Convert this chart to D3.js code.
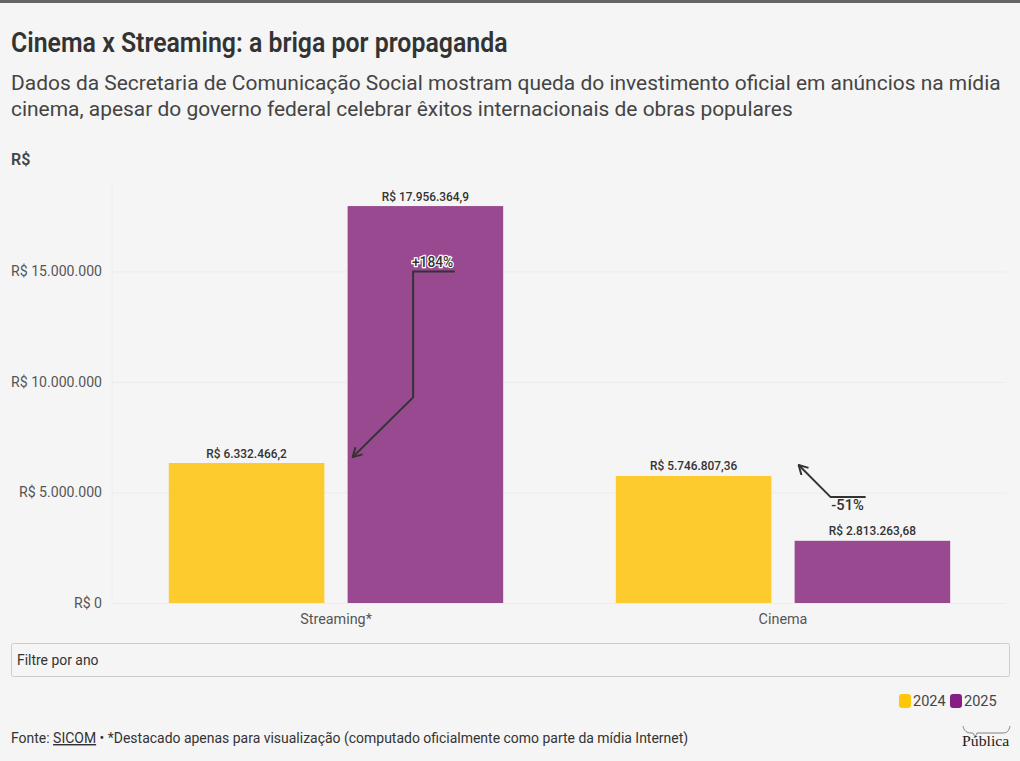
<!DOCTYPE html>
<html>
<head>
<meta charset="utf-8">
<script src="https://cdn.jsdelivr.net/npm/d3@7"></script>
<style>
	html, body { margin: 0; background: #f5f5f5; overflow: hidden; }
	svg { display: block; font-family: Roboto, sans-serif; }
</style>
</head>
<body>
<svg id="chart" width="1020" height="761"></svg>
<script>
'use strict'

const categories = ['Streaming*', 'Cinema']
const years = ['2024', '2025']
const values2024 = [6332466.2, 5746807.36]
const values2025 = [17956364.9, 2813263.68]
const yTicks = [0, 5000000, 10000000, 15000000]
const titleText = 'Cinema x Streaming: a briga por propaganda'
const subtitleLines = [
	'Dados da Secretaria de Comunicação Social mostram queda do investimento oficial em anúncios na mídia',
	'cinema, apesar do governo federal celebrar êxitos internacionais de obras populares'
]
const footerParts = [
	'Fonte:',
	'SICOM',
	'• *Destacado apenas para visualização (computado oficialmente como parte da mídia Internet)'
]

const ptBR = d3.formatLocale({ decimal: ',', thousands: '.', grouping: [3], currency: ['R$ ', ''] })
const tickFormat = ptBR.format('$,.0f')
const valueFormat = ptBR.format('$,.2~f')

const barColor = d3.scaleOrdinal(years, ['#fdcb2e', '#98498f'])
const legendColor = d3.scaleOrdinal(years, ['#ffc60a', '#851f84'])

const svg = d3.select('#chart')

// The original webfont is narrow, so Roboto gets squeezed horizontally.
function label(x, y, text, size, weight, fill, squeeze, anchor) {
	const node = svg.append('text')
		.attr('x', x)
		.attr('y', y)
		.attr('font-size', size)
		.attr('font-weight', weight)
		.attr('fill', fill)
		.attr('text-anchor', anchor || 'start')
		.text(text)
	squeezeText(node, squeeze)
	return node
}

function squeezeText(node, squeeze) {
	node.each(function () {
		this.setAttribute('textLength', this.getComputedTextLength() * squeeze)
		this.setAttribute('lengthAdjust', 'spacingAndGlyphs')
	})
}

svg.append('rect').attr('width', 1020).attr('height', 3).attr('fill', '#666')

label(11, 52, titleText, 27, 600, '#333', 0.921)
subtitleLines.forEach((line, i) => label(11, 90 + i * 26, line, 21, 400, '#444', 0.997))
label(11, 165, 'R$', 16, 600, '#444', 1)

const y = d3.scaleLinear().domain([0, 19000000]).range([603, 183])
const x = d3.scaleBand().domain(categories).range([112.5, 1006.5])
const xYear = d3.scaleBand().domain(years).range([0, x.bandwidth()]).paddingInner(0.13).paddingOuter(0.315)

// gridlines
const gridAxis = d3.axisLeft(y).tickValues(yTicks).tickSize(-894).tickFormat('')
const grid = svg.append('g').attr('transform', 'translate(112,0)').call(gridAxis)
grid.select('.domain').attr('stroke', '#eee').attr('d', 'M0,183V603')
grid.selectAll('.tick line').attr('stroke', '#ececec')

const yAxis = svg.append('g')
	.attr('transform', 'translate(102,-0.5)')
	.call(d3.axisLeft(y).tickValues(yTicks).tickSize(0).tickPadding(0).tickFormat(tickFormat))
yAxis.select('.domain').remove()
yAxis.selectAll('text')
	.attr('font-family', 'Roboto, sans-serif')
	.attr('font-size', 15)
	.attr('fill', '#555')
	.call(squeezeText, 0.94)

const xAxis = svg.append('g')
	.attr('transform', 'translate(0,603)')
	.call(d3.axisBottom(x).tickSize(0).tickPadding(11))
xAxis.select('.domain').remove()
xAxis.selectAll('text')
	.attr('font-family', 'Roboto, sans-serif')
	.attr('font-size', 14.5)
	.attr('fill', '#555')
	.call(squeezeText, 0.99)

const seriesByYear = [values2024, values2025]
const barData = categories.flatMap((category, i) =>
	years.map((year, j) => ({ category, year, value: seriesByYear[j][i] })))

const barX = d => x(d.category) + xYear(d.year)

svg.append('g').selectAll('rect')
	.data(barData)
	.join('rect')
	.attr('x', barX)
	.attr('y', d => y(d.value))
	.attr('width', xYear.bandwidth())
	.attr('height', d => y(0) - y(d.value))
	.attr('fill', d => barColor(d.year))

svg.append('g').selectAll('text')
	.data(barData)
	.join('text')
	.attr('x', d => barX(d) + xYear.bandwidth() / 2)
	.attr('y', d => y(d.value) - 5.5)
	.attr('text-anchor', 'middle')
	.attr('font-size', 13.5)
	.attr('font-weight', 500)
	.attr('fill', '#333')
	.text(d => valueFormat(d.value))
	.call(squeezeText, 0.88)

// annotation arrows, anchored to the bars they comment on
svg.append('defs').append('marker')
	.attr('id', 'arrow')
	.attr('viewBox', '0 0 12 12')
	.attr('refX', 11)
	.attr('refY', 6)
	.attr('markerWidth', 12)
	.attr('markerHeight', 12)
	.attr('markerUnits', 'userSpaceOnUse')
	.attr('orient', 'auto')
	.append('path')
	.attr('d', 'M2,1L11,6L2,11')
	.attr('fill', 'none')
	.attr('stroke', '#333')
	.attr('stroke-width', 2)
	.attr('stroke-linejoin', 'round')

const line = d3.line()
const streamingBar = barX(barData[1])
const cinemaBar = barX(barData[3])

svg.append('path')
	.attr('d', line([
		[streamingBar + 107, y(15000000)],
		[streamingBar + 65.5, y(15000000)],
		[streamingBar + 65.5, y(9300000)],
		[streamingBar + 5, y(6600000)]
	]))
	.attr('fill', 'none')
	.attr('stroke', '#333')
	.attr('stroke-width', 2)
	.attr('marker-end', 'url(#arrow)')

svg.append('path')
	.attr('d', line([
		[cinemaBar + 71, y(4790000)],
		[cinemaBar + 36, y(4790000)],
		[cinemaBar + 4, y(6240000)]
	]))
	.attr('fill', 'none')
	.attr('stroke', '#333')
	.attr('stroke-width', 2)
	.attr('marker-end', 'url(#arrow)')

label(streamingBar + 85, 267, '+184%', 14.5, 500, '#333', 0.95, 'middle')
	.attr('stroke', '#fff')
	.attr('stroke-width', 2.5)
	.attr('paint-order', 'stroke')
label(cinemaBar + 53, 510, '-51%', 15, 500, '#333', 0.98, 'middle')

// filter box
svg.append('rect')
	.attr('x', 11.5)
	.attr('y', 643.5)
	.attr('width', 998)
	.attr('height', 33)
	.attr('rx', 2)
	.attr('fill', '#f5f5f5')
	.attr('stroke', '#ccc')
label(17, 665, 'Filtre por ano', 14.5, 400, '#333', 0.96)

// legend
const legendX = d3.scaleOrdinal(years, [899, 950])
const legend = svg.append('g').selectAll('g').data(years).join('g')
legend.append('rect')
	.attr('x', d => legendX(d))
	.attr('y', 694)
	.attr('width', 12)
	.attr('height', 14)
	.attr('rx', 3)
	.attr('fill', d => legendColor(d))
legend.append('text')
	.attr('x', d => legendX(d) + 14)
	.attr('y', 706)
	.attr('font-size', 15)
	.attr('fill', '#444')
	.text(d => d)
	.call(squeezeText, 0.97)

// footer, laid out piece by piece so SICOM can carry its underline
let footerX = 11
footerParts.forEach((part, i) => {
	const piece = label(footerX, 743, part, 14.5, 400, '#333', 0.963)
	if (part === 'SICOM') piece.attr('text-decoration', 'underline')
	footerX += piece.node().getComputedTextLength() + 3.5
})

// Publica logo
svg.append('path')
	.attr('d', 'M963,726C964,731 967,733 971,733H973L975,737L977,733H1003C1007,733 1009,731 1010,726')
	.attr('fill', 'none')
	.attr('stroke', '#555')
	.attr('stroke-width', 0.7)
svg.append('text')
	.attr('x', 962)
	.attr('y', 746)
	.attr('font-family', '"Liberation Serif", serif')
	.attr('font-size', 15)
	.attr('fill', '#222')
	.text('Pública')
	.call(squeezeText, 1.05)
</script>
</body>
</html>
